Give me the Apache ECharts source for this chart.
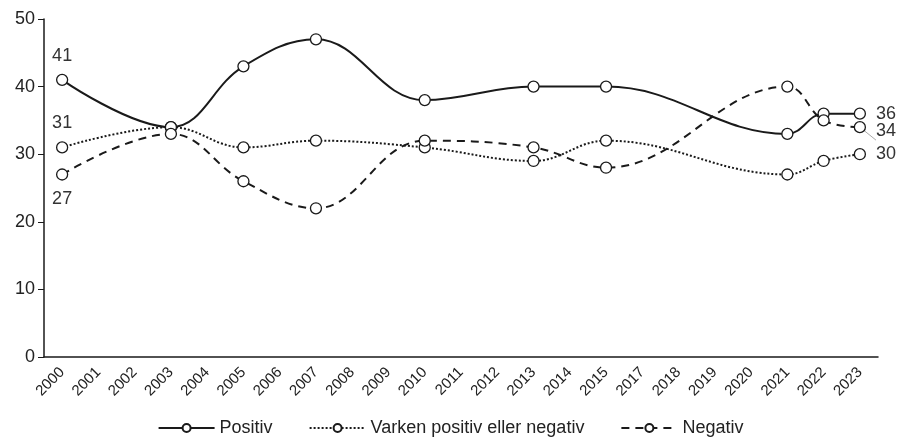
<!DOCTYPE html>
<html>
<head>
<meta charset="utf-8">
<script src="https://cdn.jsdelivr.net/npm/echarts@6/dist/echarts.min.js"></script>
<style>
  html, body { margin: 0; padding: 0; background: #fff; }
  #chart { width: 901px; height: 443px; }
</style>
</head>
<body>
<div id="chart"></div>
<script>
// years on the axis (2016 is not in the survey)
const years = ['2000', '2001', '2002', '2003', '2004', '2005', '2006', '2007', '2008', '2009', '2010',
  '2011', '2012', '2013', '2014', '2015', '2017', '2018', '2019', '2020', '2021', '2022', '2023'];

// null = no measurement that year
const positiv = [41, null, null, 34, null, 43, null, 47, null, null, 38,
  null, null, 40, null, 40, null, null, null, null, 33, 36, 36];
const varken = [31, null, null, 34, null, 31, null, 32, null, null, 31,
  null, null, 29, null, 32, null, null, null, null, 27, 29, 30];
const negativ = [27, null, null, 33, null, 26, null, 22, null, null, 32,
  null, null, 31, null, 28, null, null, null, null, 40, 35, 34];

const seriesNames = ['Positiv', 'Varken positiv eller negativ', 'Negativ'];

const FONT = 'Liberation Sans, Arial, sans-serif';
const INK = '#1a1a1a';

// label only first and last value of each series
function withEndLabels(values, firstPos, lastOpts, lastLine) {
  return values.map((v, i) => {
    if (v === null) return null;
    if (i === 0) {
      return { value: v, label: { show: true, position: firstPos, distance: 9 } };
    }
    if (i === values.length - 1) {
      const item = { value: v, label: Object.assign({ show: true, position: 'right', distance: 10 }, lastOpts) };
      if (lastLine) item.labelLine = { show: true, lineStyle: { color: '#aaa', width: 1 } };
      return item;
    }
    return v;
  });
}

function makeSeries(name, values, lineType, firstPos, lastOpts, lastLine) {
  return {
    name: name,
    type: 'line',
    data: withEndLabels(values, firstPos, lastOpts, lastLine),
    connectNulls: true,
    smooth: 0.4,
    symbol: 'circle',
    symbolSize: 11,
    itemStyle: { color: '#fff', borderColor: INK, borderWidth: 1.3 },
    lineStyle: { color: INK, width: 2, type: lineType },
    label: { color: '#333', fontSize: 18, fontFamily: FONT },
    labelLine: { show: false },
    emphasis: { disabled: true },
    z: 2
  };
}

const chart = echarts.init(document.getElementById('chart'));

chart.setOption({
  animation: false,
  backgroundColor: '#fff',
  textStyle: { fontFamily: FONT },
  grid: { left: 44, right: 23, top: 19, bottom: 86, containLabel: false },
  legend: {
    bottom: 1,
    left: 'center',
    itemWidth: 56,
    itemHeight: 10,
    itemGap: 36,
    textStyle: { fontSize: 18, color: '#222', fontFamily: FONT },
    data: seriesNames
  },
  xAxis: {
    type: 'category',
    data: years,
    boundaryGap: true,
    axisLine: { lineStyle: { color: INK, width: 1.5 } },
    axisTick: { alignWithLabel: true, length: 5, lineStyle: { color: INK } },
    axisLabel: { rotate: 45, interval: 0, fontSize: 15, color: '#222', margin: 13, fontFamily: FONT }
  },
  yAxis: {
    type: 'value',
    min: 0,
    max: 50,
    interval: 10,
    axisLine: { show: true, lineStyle: { color: INK, width: 1.5 } },
    axisTick: { show: true, length: 6, lineStyle: { color: INK } },
    splitLine: { show: false },
    axisLabel: { fontSize: 18, color: '#222', margin: 9, fontFamily: FONT }
  },
  series: [
    makeSeries(seriesNames[0], positiv, 'solid', 'top', {}, false),
    makeSeries(seriesNames[1], varken, 'dotted', 'top', {}, false),
    makeSeries(seriesNames[2], negativ, [8, 6], 'bottom', { offset: [0, 4] }, true)
  ]
});
</script>
</body>
</html>
